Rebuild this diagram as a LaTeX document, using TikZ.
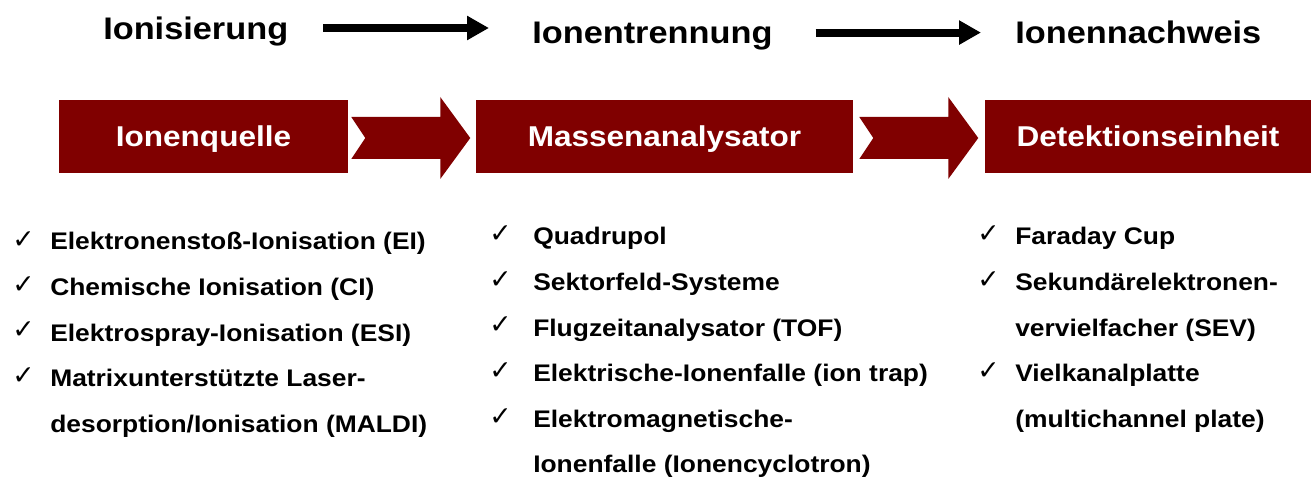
\documentclass[tikz,border=0pt]{standalone}
\usepackage{fontspec}
\setmainfont{Liberation Sans}[FakeStretch=1.1]
\newfontfamily\checkfont{DejaVu Sans}
\usetikzlibrary{arrows.meta,calc}
\definecolor{boxred}{HTML}{800000}

\tikzset{
  title/.style={anchor=base west,inner sep=0pt,font=\bfseries\fontsize{23.4pt}{28pt}\selectfont},
  stage/.style={fill=boxred,text=white,inner sep=0pt,minimum height=54.75pt,
    text height=15.5pt,text depth=0pt,font=\bfseries\fontsize{21.5pt}{26pt}\selectfont},
  item/.style={anchor=base west,inner sep=0pt,align=left,font=\bfseries\fontsize{18pt}{34.1pt}\selectfont},
  tick/.style={anchor=base west,inner sep=0pt,font=\checkfont\fontsize{20pt}{22pt}\selectfont},
  flow/.style={line width=6pt,-{Triangle[length=16.5pt,width=17.25pt]}},
  chevron/.pic={\fill[boxred] (0,-21) -- (89,-21) -- (89,-41) -- (119,0) -- (89,41)
    -- (89,21) -- (0,21) -- (14,0) -- cycle;}
}

\begin{document}
\begin{tikzpicture}[x=0.75pt,y=-0.75pt]
\useasboundingbox (0,0) rectangle (1311,481);

% steps on top
\node[title] (ioni)  at (103,40)  {Ionisierung};
\node[title] (trenn) at (532,44)  {Ionentrennung};
\node[title] (nach)  at (1015,44) {Ionennachweis};

\draw[flow] ($(ioni.east)+(35,-4)$)  -- ($(ioni.east -| trenn.west)+(-43,-4)$);
\draw[flow] ($(trenn.east)+(43,-4)$) -- ($(trenn.east -| nach.west)+(-34,-4)$);

% red banners
\node[stage,minimum width=216.75pt] (quelle)   at (203.5,136.5) {Ionenquelle};
\node[stage,minimum width=282.75pt] (analyse)  at (664.5,136.5) {Massenanalysator};
\node[stage,minimum width=244.5pt]  (detektor) at (1148,136.5)  {Detektionseinheit};

\pic at ($(quelle.east)+(3,1.5)$)  {chevron};
\pic at ($(analyse.east)+(6,1.5)$) {chevron};

% Ionenquelle
\node[tick] (c11) at (12,248)   {✓};
\node[item] (q1)  at (50,250)   {Elektronenstoß-Ionisation (EI)};
\node[tick] (c12) at (12,293.5) {✓};
\node[item] (q2)  at (50,295.5) {Chemische Ionisation (CI)};
\node[tick] (c13) at (12,339)   {✓};
\node[item] (q3)  at (50,341)   {Elektrospray-Ionisation (ESI)};
\node[tick] (c14) at (12,384.5) {✓};
\node[item] (q4)  at (50,432)   {Matrixunterstützte Laser-\\desorption/Ionisation (MALDI)};

% Massenanalysator
\node[tick] (c21) at (489,243)   {✓};
\node[item] (m1)  at (533,245)   {Quadrupol};
\node[tick] (c22) at (489,288.5) {✓};
\node[item] (m2)  at (533,290.5) {Sektorfeld-Systeme};
\node[tick] (c23) at (489,334)   {✓};
\node[item] (m3)  at (533,336)   {Flugzeitanalysator (TOF)};
\node[tick] (c24) at (489,379.5) {✓};
\node[item] (m4)  at (533,381.5) {Elektrische-Ionenfalle (ion trap)};
\node[tick] (c25) at (489,425)   {✓};
\node[item] (m5)  at (533,472.5) {Elektromagnetische-\\Ionenfalle (Ionencyclotron)};

% Detektionseinheit
\node[tick] (c31) at (977,243)   {✓};
\node[item] (d1)  at (1015,245)  {Faraday Cup};
\node[tick] (c32) at (977,288.5) {✓};
\node[item] (d2)  at (1015,336)  {Sekundärelektronen-\\vervielfacher (SEV)};
\node[tick] (c33) at (977,379.5) {✓};
\node[item] (d3)  at (1015,427)  {Vielkanalplatte\\(multichannel plate)};
\end{tikzpicture}
\end{document}
